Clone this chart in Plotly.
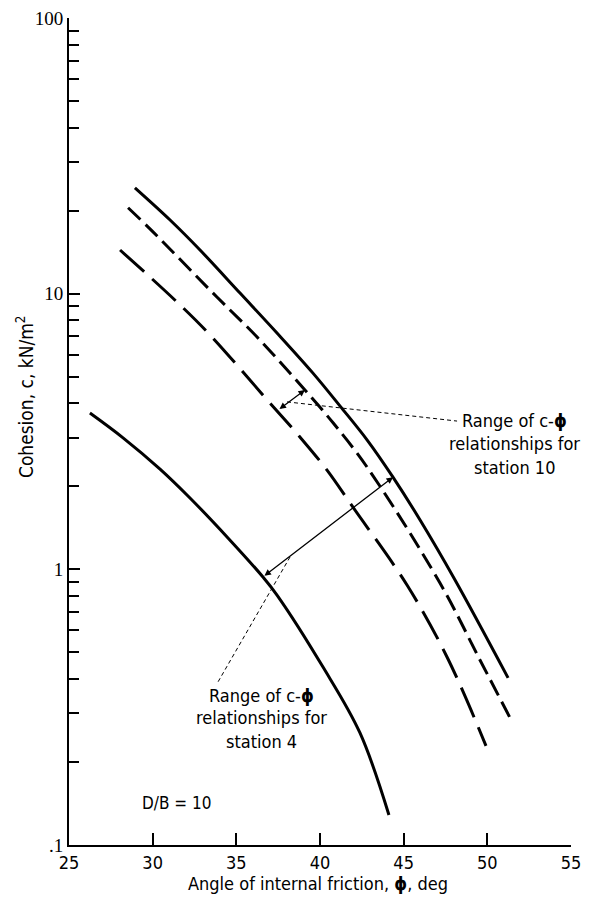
import math
import plotly.graph_objects as go

# ---------------- data ----------------
phi_upper_solid = [28.94, 31.04, 32.83, 35.22, 37.43, 39.58, 41.20, 42.81, 44.36, 45.98, 48.07, 51.24]
c_upper_solid = [24.2, 18.5, 14.4, 10.05, 7.2, 5.15, 3.91, 2.95, 2.16, 1.51, 0.915, 0.404]

phi_short_dashed = [28.53, 29.96, 33.84, 36.24, 39.10, 40.78, 42.81, 47.17, 49.56, 51.36]
c_short_dashed = [20.5, 16.9, 9.72, 6.96, 4.47, 3.40, 2.35, 0.892, 0.469, 0.289]

phi_long_dashed = [28.05, 31.45, 33.43, 37.01, 38.80, 40.42, 41.97, 45.20, 47.59, 49.92]
c_long_dashed = [14.4, 9.33, 7.08, 4.01, 3.02, 2.29, 1.68, 0.877, 0.481, 0.229]

phi_lower_solid = [26.25, 28.23, 30.44, 32.23, 34.50, 36.59, 37.43, 40.18, 42.39, 44.12]
c_lower_solid = [3.69, 3.00, 2.31, 1.815, 1.30, 0.938, 0.807, 0.442, 0.255, 0.1285]

x_tick_values = [25, 30, 35, 40, 45, 50, 55]
x_tick_labels = ["25", "30", "35", "40", "45", "50", "55"]
y_major_ticks = [0.1, 1, 10, 100]
y_major_labels = [".1", "1", "10", "100"]
y_minor_ticks = [d * m for d in [0.1, 1, 10] for m in range(2, 10)]

# annotation geometry (phi, c)
station10_arrow = [(37.49, 3.78), (39.10, 4.47)]
station10_leader = [(38.03, 4.05), (48.19, 3.45)]
station10_text_pos = (51.6, [3.48, 2.87, 2.35])
station4_arrow = [(36.59, 0.938), (44.36, 2.16)]
station4_leader = [(38.21, 1.109), (33.90, 0.390)]
station4_text_pos = (36.53, [0.350, 0.289, 0.238])
label_lines = ["Range of c-<b>ϕ</b>", "relationships for"]

SANS = "Liberation Sans Narrow, DejaVu Sans Condensed, Arial Narrow, sans-serif"
SERIF = "Liberation Serif, Times New Roman, serif"

fig = go.Figure()

def curve(px, cy, dash):
    fig.add_trace(go.Scatter(
        x=px, y=cy, mode="lines",
        line=dict(color="black", width=3, dash=dash, shape="spline", smoothing=1.0),
        hoverinfo="skip", showlegend=False))

curve(phi_upper_solid, c_upper_solid, "solid")
curve(phi_short_dashed, c_short_dashed, "17px,7px")
curve(phi_long_dashed, c_long_dashed, "32px,11px")
curve(phi_lower_solid, c_lower_solid, "solid")

for seg in (station10_leader, station4_leader):
    fig.add_trace(go.Scatter(
        x=[p[0] for p in seg], y=[p[1] for p in seg], mode="lines",
        line=dict(color="black", width=1, dash="4px,3px"),
        hoverinfo="skip", showlegend=False))

annotations = []
for (a, b) in (station10_arrow, station4_arrow):
    annotations.append(dict(
        x=b[0], y=math.log10(b[1]), ax=a[0], ay=math.log10(a[1]),
        xref="x", yref="y", axref="x", ayref="y", text="",
        showarrow=True, arrowhead=2, arrowside="end+start",
        arrowsize=1, arrowwidth=1.3, arrowcolor="black"))

def label_block(pos, last):
    x, ys = pos
    for txt, yv in zip(label_lines + [last], ys):
        annotations.append(dict(
            x=x, y=math.log10(yv), xref="x", yref="y", text=txt,
            showarrow=False, xanchor="center", yanchor="middle",
            font=dict(family=SANS, size=18, color="black")))

label_block(station10_text_pos, "station 10")
label_block(station4_text_pos, "station 4")

annotations.append(dict(
    x=31.45, y=math.log10(0.142), xref="x", yref="y", text="D/B = 10",
    showarrow=False, xanchor="center", yanchor="middle",
    font=dict(family=SANS, size=17, color="black")))

# axis titles (paper coordinates)
annotations.append(dict(
    x=-0.0876, y=0.5417, xref="paper", yref="paper",
    xanchor="center", yanchor="middle", textangle=-90,
    text="Cohesion, c, kN/m<sup>2</sup>", showarrow=False,
    font=dict(family=SANS, size=19, color="black")))
annotations.append(dict(
    x=0.496, y=-0.047, xref="paper", yref="paper",
    xanchor="center", yanchor="middle",
    text="Angle of internal friction, <b>ϕ</b>, deg", showarrow=False,
    font=dict(family=SANS, size=18, color="black")))

fig.update_layout(
    width=583, height=891,
    margin=dict(l=61, r=20, t=10, b=54),
    paper_bgcolor="white", plot_bgcolor="white",
    annotations=annotations,
    xaxis=dict(
        range=[25, 55], showgrid=False, zeroline=False, automargin=False,
        showline=True, linecolor="black", linewidth=2,
        tickmode="array", tickvals=x_tick_values, ticktext=x_tick_labels,
        ticks="inside", ticklen=12, tickwidth=1.5, tickcolor="black",
        ticklabeloverflow="allow",
        tickfont=dict(family=SANS, size=18, color="black"),
    ),
    yaxis=dict(
        type="log", range=[-1, 2], showgrid=False, zeroline=False, automargin=False,
        showline=True, linecolor="black", linewidth=2,
        tickmode="array", tickvals=y_major_ticks, ticktext=y_major_labels,
        ticks="inside", ticklen=11, tickwidth=1.5, tickcolor="black",
        ticklabeloverflow="allow",
        tickfont=dict(family=SERIF, size=19, color="black"),
        minor=dict(tickmode="array", tickvals=y_minor_ticks, ticks="inside",
                   ticklen=10, tickwidth=1.5, tickcolor="black", showgrid=False),
    ),
)

fig.write_html("out.html")
